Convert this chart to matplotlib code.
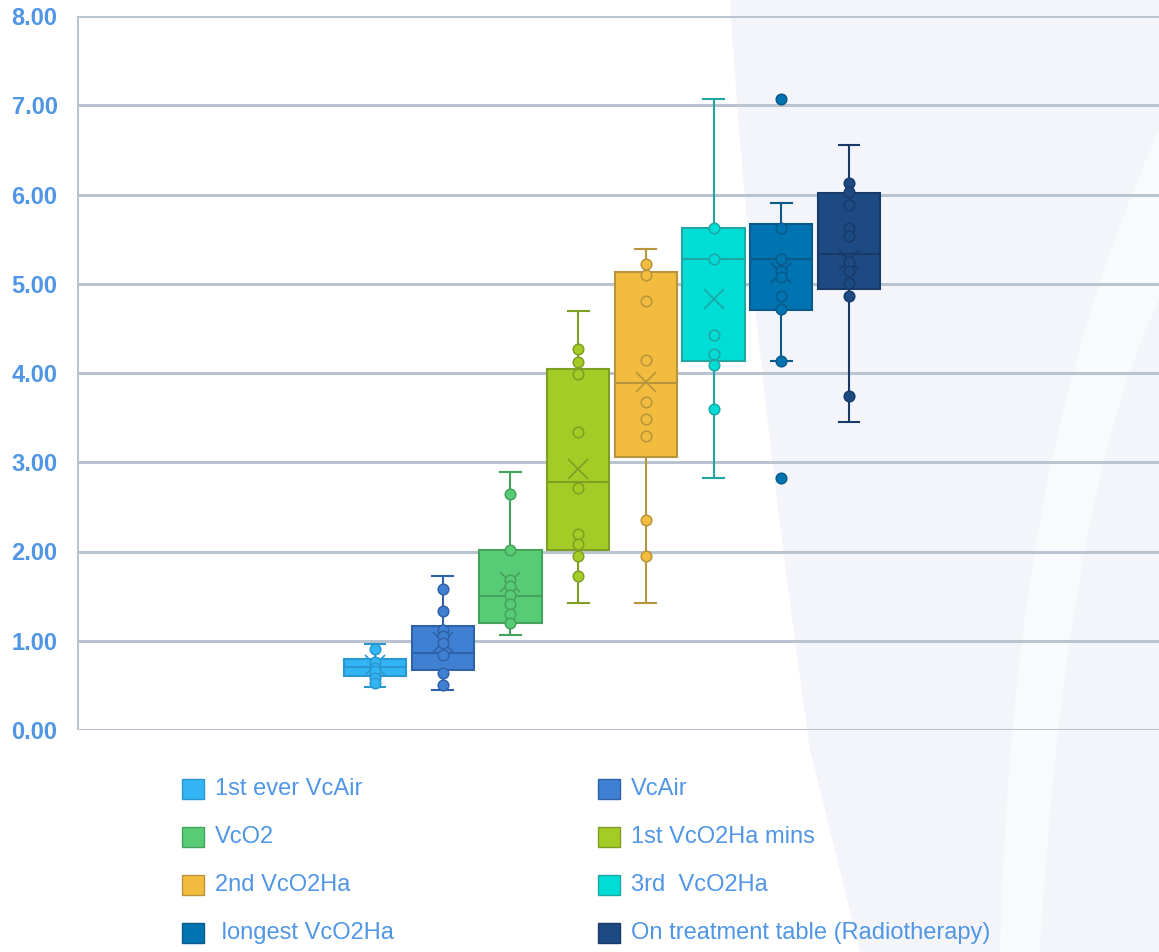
import matplotlib
matplotlib.use("Agg")
import matplotlib.pyplot as plt
from matplotlib.patches import Rectangle, PathPatch
from matplotlib.path import Path

plt.rcParams['font.family'] = ['Liberation Sans', 'DejaVu Sans']

# ---------------- data ----------------
series_names = ["1st ever VcAir", "VcAir", "VcO2", "1st VcO2Ha mins",
                "2nd VcO2Ha", "3rd  VcO2Ha", " longest VcO2Ha",
                "On treatment table (Radiotherapy)"]
q1_vals = [0.61, 0.67, 1.20, 2.02, 3.06, 4.14, 4.71, 4.94]
median_vals = [0.71, 0.86, 1.50, 2.78, 3.89, 5.28, 5.28, 5.33]
q3_vals = [0.79, 1.17, 2.02, 4.04, 5.13, 5.63, 5.67, 6.02]
whisker_low = [0.48, 0.45, 1.06, 1.42, 1.42, 2.82, 4.14, 3.45]
whisker_high = [0.96, 1.73, 2.89, 4.69, 5.39, 7.07, 5.90, 6.55]
mean_vals = [0.73, 0.99, 1.66, 2.92, 3.90, 4.83, 5.12, 5.27]

points_1 = [0.91, 0.76, 0.70, 0.66, 0.58, 0.53]
points_2 = [1.58, 1.33, 1.12, 1.05, 0.97, 0.84, 0.64, 0.50]
points_3 = [2.64, 2.02, 1.68, 1.61, 1.51, 1.41, 1.30, 1.20]
points_4 = [4.27, 4.12, 3.99, 3.34, 2.71, 2.20, 2.08, 1.95, 1.73]
points_5 = [5.22, 5.10, 4.81, 4.15, 3.67, 3.49, 3.29, 2.35, 1.95]
points_6 = [5.62, 5.28, 4.43, 4.21, 4.09, 3.60]
points_7 = [7.07, 5.62, 5.28, 5.14, 5.08, 4.86, 4.72, 4.14, 2.82]
points_8 = [6.13, 6.03, 5.88, 5.62, 5.53, 5.24, 5.14, 5.01, 4.86, 3.74]
all_points = [points_1, points_2, points_3, points_4,
              points_5, points_6, points_7, points_8]

y_ticks = [0, 1, 2, 3, 4, 5, 6, 7, 8]
y_tick_labels = ["0.00", "1.00", "2.00", "3.00", "4.00", "5.00", "6.00", "7.00", "8.00"]

fill_colors = ["#33B5F5", "#3F80D2", "#58CC74", "#A3CC26",
               "#F2BD3F", "#00DDD6", "#0074B0", "#1E4A84"]
edge_colors = ["#2A98D0", "#2F62A8", "#45A25C", "#7E9E24",
               "#B8943C", "#1FA7A3", "#0A5A8A", "#173A6A"]

text_color = "#5096E4"
grid_color = "#B9C4D0"

W, H = 1159, 952
fig = plt.figure(figsize=(W / 100, H / 100), dpi=100)
fig.patch.set_facecolor("white")

# ---------- decorative background ----------
def px(x, y):
    return (x / W, 1 - y / H)

bg_verts = [px(730, 0), px(745, 250), px(775, 500), px(810, 750), px(860, 952),
            px(1159, 952), px(1159, 0), px(730, 0)]
bg_codes = [Path.MOVETO, Path.CURVE4, Path.CURVE4, Path.CURVE4, Path.LINETO,
            Path.LINETO, Path.LINETO, Path.CLOSEPOLY]
fig.patches.append(PathPatch(Path(bg_verts, bg_codes), transform=fig.transFigure,
                             facecolor="#F3F5FA", edgecolor="none", zorder=-10))
band_verts = [px(1159, 130), px(1070, 330), px(1010, 560), px(1000, 952),
              px(1040, 952), px(1060, 600), px(1110, 400), px(1159, 300), px(1159, 130)]
band_codes = [Path.MOVETO, Path.CURVE4, Path.CURVE4, Path.CURVE4,
              Path.LINETO, Path.CURVE4, Path.CURVE4, Path.CURVE4, Path.CLOSEPOLY]
fig.patches.append(PathPatch(Path(band_verts, band_codes), transform=fig.transFigure,
                             facecolor="#F9FAFD", edgecolor="none", zorder=-9))

# ---------- axes ----------
left, right, top, bottom = 77, 1159, 16, 730
ax = fig.add_axes([left / W, 1 - bottom / H, (right - left) / W, (bottom - top) / H])
ax.set_facecolor("none")
ax.set_zorder(1)

positions = list(range(1, len(series_names) + 1))
spacing = (849 - 375) / 7
ax.set_xlim(1 - (375 - left) / spacing, 8 + (right - 849) / spacing)
ax.set_ylim(0, 8)

for yv in y_ticks:
    ax.axhline(yv, color=grid_color, lw=2.2, zorder=1)
ax.axvline(ax.get_xlim()[0], color=grid_color, lw=2.2, zorder=1)

for i, pos in enumerate(positions):
    fc, ec = fill_colors[i], edge_colors[i]
    stats = [dict(med=median_vals[i], q1=q1_vals[i], q3=q3_vals[i],
                  whislo=whisker_low[i], whishi=whisker_high[i],
                  mean=mean_vals[i], fliers=[])]
    ax.bxp(stats, positions=[pos], widths=0.92, patch_artist=True,
           showmeans=True, showfliers=False,
           boxprops=dict(facecolor=fc, edgecolor=ec, linewidth=1.5),
           medianprops=dict(color=ec, linewidth=1.5),
           whiskerprops=dict(color=ec, linewidth=1.5),
           capprops=dict(color=ec, linewidth=1.5),
           capwidths=0.31,
           meanprops=dict(marker="x", markersize=14, markeredgecolor=ec,
                          markeredgewidth=1.2, markerfacecolor="none"),
           zorder=3)
    pts = all_points[i]
    ax.scatter([pos] * len(pts), pts, s=58, facecolor=fc, edgecolor=ec,
               linewidth=1.1, zorder=4)

for sp in ax.spines.values():
    sp.set_visible(False)
ax.set_xticks([])
ax.set_yticks(y_ticks)
ax.set_yticklabels(y_tick_labels)
ax.tick_params(axis="y", length=0, pad=14, labelsize=17, labelcolor=text_color)
for lab in ax.get_yticklabels():
    lab.set_fontweight("bold")

# ---------- legend ----------
col_x = [182, 598]
row_y = [789, 837, 885, 933]
for i, name in enumerate(series_names):
    r, c = i // 2, i % 2
    x0, yc = col_x[c], row_y[r]
    fig.patches.append(Rectangle(px(x0, yc + 10), 22 / W, 20 / H,
                                 transform=fig.transFigure,
                                 facecolor=fill_colors[i], edgecolor=edge_colors[i],
                                 linewidth=1.0, zorder=2))
    fig.text((x0 + 33) / W, 1 - yc / H, name, color=text_color, fontsize=17,
             va="center", ha="left", zorder=3)

fig.savefig("out.png", dpi=100, facecolor="white")
